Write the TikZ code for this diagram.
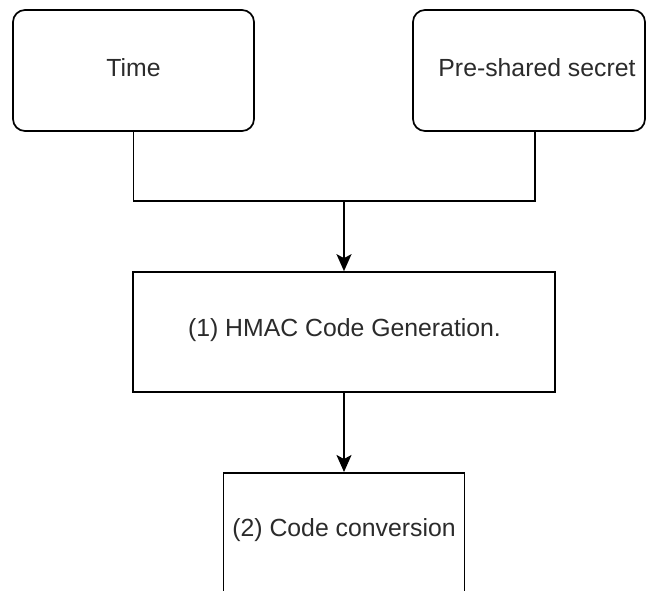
\documentclass[tikz,border=0pt]{standalone}
\usepackage{fontspec}
\setmainfont{Liberation Sans}
\usetikzlibrary{arrows.meta,calc}
\definecolor{inkgray}{HTML}{2B2B2B}
\begin{document}
\begin{tikzpicture}[x=1pt,y=-1pt,
  box/.style={draw=black,line width=1.7pt,fill=white,inner sep=0pt},
  roundbox/.style={box,rounded corners=12pt},
  lbl/.style={text=inkgray,font=\fontsize{24.8}{29}\selectfont,inner sep=0pt},
  link/.style={draw=black,line width=1.7pt},
  flow/.style={link,-{Stealth[length=17pt,width=15pt,inset=4pt]}}]
\useasboundingbox (0,0) rectangle (646,590);
\clip (0,0) rectangle (646,590);

% inputs
\node[roundbox,minimum width=241pt,minimum height=121pt] (time) at (133.5,70.5) {};
\node[lbl] (timelabel) at (133.5,68) {Time};
\node[roundbox,minimum width=232pt,minimum height=121pt] (ps) at (529,70.5) {};
\node[lbl] (pslabel) at (537,68) {Pre-shared secret};

% processing steps
\node[box,minimum width=422pt,minimum height=120pt] (hmac) at (344,332) {};
\node[lbl] (hmaclabel) at (344.5,330) {(1) HMAC Code Generation.};
\node[box,anchor=north,minimum width=241pt,minimum height=160pt] (conv) at (344,472) {};
\node[lbl] (convlabel) at (344,530) {(2) Code conversion};

% connectors
\coordinate (join) at (344,201);
\draw[link] (time.south) |- (join) -| ([xshift=6pt]ps.south);
\draw[flow] (join) -- (hmac.north);
\draw[flow] (hmac.south) -- (conv.north);
\end{tikzpicture}
\end{document}
